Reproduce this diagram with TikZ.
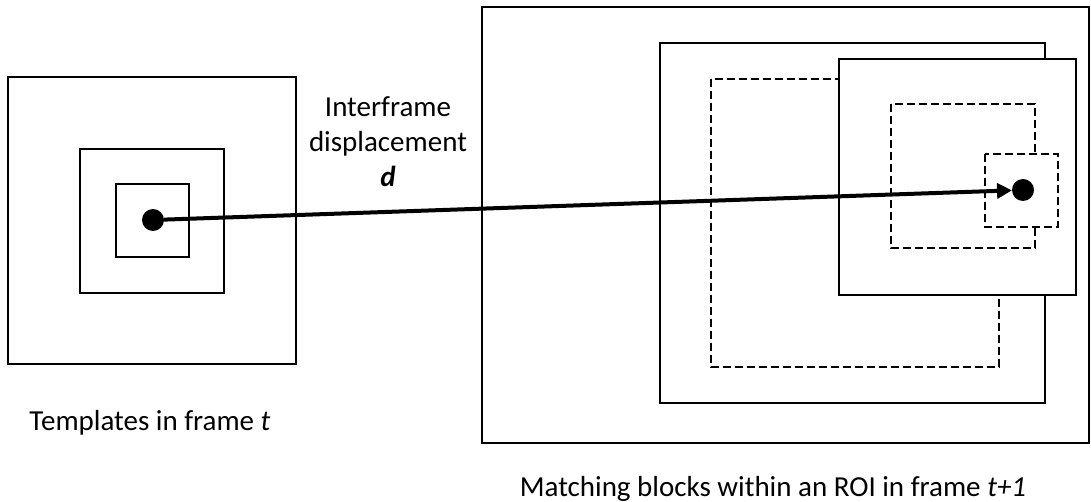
\documentclass[tikz,border=0pt]{standalone}
\usepackage{fontspec}
\setmainfont{Carlito}
\usetikzlibrary{arrows.meta}
\colorlet{frame line color}{black}
\tikzset{
    x={1pt},
    y={-1pt},
    frame box/.style={
        draw=frame line color,
        line width={2pt},
    },
    front box/.style={
        frame box,
        fill=white,
    },
    search window/.style={
        draw=frame line color,
        line width={1.8pt},
        dash pattern=on 8pt off 4pt,
    },
    front window/.style={
        search window,
        fill=white,
    },
    block dot/.style={
        circle, fill=frame line color,
        inner sep=0pt, outer sep=0pt,
        minimum size={22},
    },
    displacement/.style={
        draw=frame line color,
        line width={4pt},
        -{Triangle[length=15pt,width=15pt]},
    },
    caption/.style={
        font={\fontsize{29}{35}\selectfont},
        align=center,
        inner sep=0pt,
    },
}

\begin{document}
\begin{tikzpicture}
\useasboundingbox (0,0) rectangle (1091,502);
% frame t
\path[frame box] (8,77) rectangle (296,364);
\path[frame box] (80,149) rectangle (224,293);
\path[frame box] (116,184) rectangle (189,257);
% frame t+1
\path[frame box] (482,7) rectangle (1089,443);
\path[frame box] (660,43) rectangle (1045,403);
\path[search window] (711,79) rectangle (999,367);
\path[front box] (839,59) rectangle (1076,295);
\path[search window] (891,104) rectangle (1035,248);
\path[front window] (985,154) rectangle (1058,227);
% blocks
\node[block dot] (template) at (153,220) {};
\node[block dot] (match) at (1023,190) {};
\draw[displacement] (template) -- (match);
% labels
\node[caption] (dlabel) at (388,142) {Interframe\\displacement\\\textbf{\textit{d}}};
\node[caption, anchor=base] (tlabel) at (150,430) {Templates in frame \textit{t}};
\node[caption, anchor=base] (mlabel) at (773,496) {Matching blocks within an ROI in frame \textit{t+1}};
\end{tikzpicture}
\end{document}
